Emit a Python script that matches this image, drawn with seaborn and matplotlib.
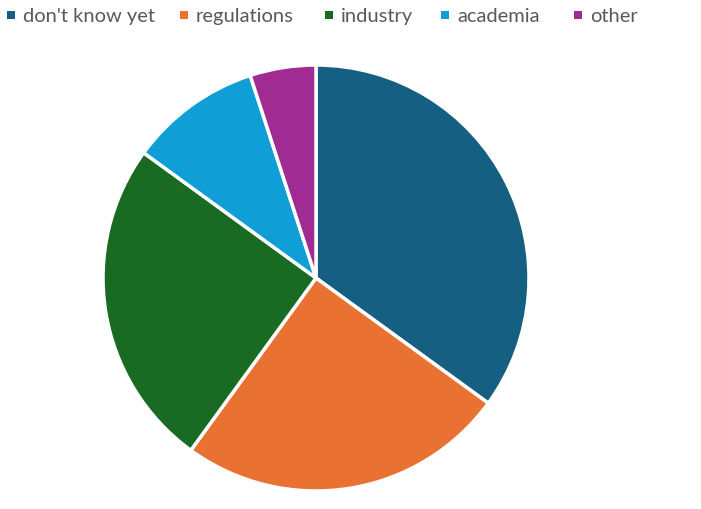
import matplotlib
matplotlib.use("Agg")
import matplotlib.pyplot as plt
from matplotlib.patches import Rectangle
import seaborn as sns

categories = ["don't know yet", "regulations", "industry", "academia", "other"]
values = [35, 25, 25, 10, 5]
colors = ["#156082", "#E97132", "#196B24", "#0F9ED5", "#A02B93"]

sns.set_theme(style="white")
plt.rcParams['font.family'] = ['Lato', 'DejaVu Sans']

W, H = 701, 510
fig = plt.figure(figsize=(W / 100, H / 100), dpi=100)
fig.patch.set_facecolor("white")

cx, cy, r = 316, 279, 213
ax = fig.add_axes([(cx - r) / W, (H - cy - r) / H, 2 * r / W, 2 * r / H])
palette = sns.color_palette(colors)
ax.pie(values, colors=palette, startangle=90, counterclock=False, radius=1,
       wedgeprops=dict(edgecolor="white", linewidth=2.5))
ax.set_xlim(-1.0, 1.0)
ax.set_ylim(-1.0, 1.0)
ax.set_aspect("equal")
ax.axis("off")

text_x = [23, 196, 341, 457, 590]
sq_x = [11, 184, 329, 445, 578]
for lab, col, tx, sx in zip(categories, palette, text_x, sq_x):
    s = 8
    fig.patches.append(Rectangle(((sx - s / 2) / W, 1 - (16 + s / 2) / H), s / W, s / H,
                                 transform=fig.transFigure, facecolor=col, edgecolor="none"))
    fig.text(tx / W, 1 - 22 / H, lab, fontsize=14.5, color="#595959", va="baseline", ha="left")

fig.savefig("out.png", dpi=100)
